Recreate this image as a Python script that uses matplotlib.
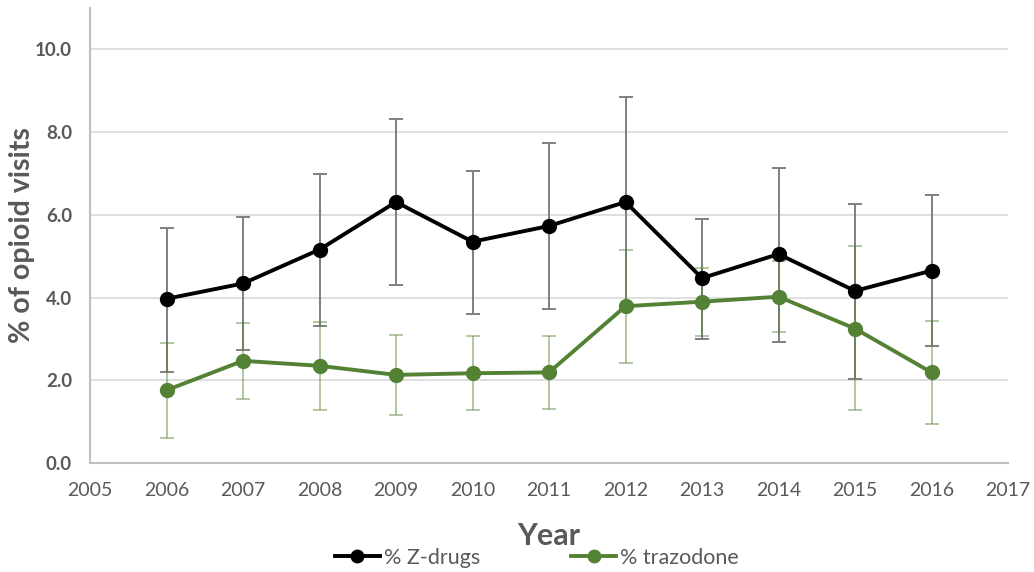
import matplotlib
matplotlib.use("Agg")
import matplotlib.pyplot as plt
from matplotlib.lines import Line2D

plt.rcParams['font.family'] = ['Lato', 'DejaVu Sans']

years = [2006, 2007, 2008, 2009, 2010, 2011, 2012, 2013, 2014, 2015, 2016]

zdrugs = [3.97, 4.34, 5.16, 6.31, 5.35, 5.73, 6.31, 4.47, 5.05, 4.16, 4.65]
zdrugs_upper = [5.69, 5.94, 6.99, 8.31, 7.06, 7.73, 8.85, 5.91, 7.14, 6.27, 6.48]
zdrugs_lower = [2.20, 2.72, 3.31, 4.30, 3.60, 3.73, 3.78, 3.00, 2.92, 2.03, 2.82]

trazodone = [1.76, 2.47, 2.35, 2.13, 2.17, 2.19, 3.79, 3.90, 4.02, 3.25, 2.19]
trazodone_upper = [2.90, 3.39, 3.42, 3.09, 3.07, 3.07, 5.16, 4.71, 4.89, 5.24, 3.43]
trazodone_lower = [0.61, 1.55, 1.27, 1.16, 1.27, 1.30, 2.42, 3.08, 3.17, 1.27, 0.95]

y_ticks = [0, 2, 4, 6, 8, 10]
x_ticks = list(range(2005, 2018))

BLACK = '#000000'
GREEN = '#548235'
TEXT = '#595959'

fig = plt.figure(figsize=(10.34, 5.72), dpi=100)
ax = fig.add_axes([90 / 1034, 1 - 463 / 572, (1008 - 90) / 1034, (463 - 8) / 572])

def err(vals, up, lo):
    return [[v - l for v, l in zip(vals, lo)], [u - v for v, u in zip(vals, up)]]

ax.errorbar(years, zdrugs, yerr=err(zdrugs, zdrugs_upper, zdrugs_lower), fmt='none',
            ecolor='#7f7f7f', elinewidth=1.4, capsize=5, capthick=1.4, zorder=2)
ax.errorbar(years, trazodone, yerr=err(trazodone, trazodone_upper, trazodone_lower), fmt='none',
            ecolor=GREEN, alpha=0.45, elinewidth=1.4, capsize=5, capthick=1.4, zorder=2)

ax.plot(years, zdrugs, color=BLACK, lw=2.8, marker='o', ms=10, zorder=4)
ax.plot(years, trazodone, color=GREEN, lw=2.8, marker='o', ms=10, zorder=3)

ax.set_xlim(2005, 2017)
ax.set_ylim(0, 11)
ax.set_yticks(y_ticks)
ax.set_yticklabels([f"{v:.1f}" for v in y_ticks], fontweight='bold')
ax.set_xticks(x_ticks)
ax.set_xticklabels([str(x) for x in x_ticks])
ax.tick_params(axis='both', length=0, colors=TEXT)
ax.tick_params(axis='x', labelsize=14, pad=14)
ax.tick_params(axis='y', labelsize=13.5, pad=13)

ax.grid(axis='y', color='#d9d9d9', lw=1.2)
ax.set_axisbelow(True)
for s in ['top', 'right']:
    ax.spines[s].set_visible(False)
ax.spines['left'].set_color('#bfbfbf')
ax.spines['bottom'].set_color('#bfbfbf')
ax.spines['left'].set_linewidth(1.5)
ax.spines['bottom'].set_linewidth(1.5)

fig.text(22 / 1034, 1 - 235 / 572, '% of opioid visits', fontsize=20.5, fontweight='bold',
         color=TEXT, rotation=90, ha='center', va='center')
fig.text(549 / 1034, 1 - 536 / 572, 'Year', fontsize=22, fontweight='bold', color=TEXT,
         ha='center', va='center')

handles = [Line2D([], [], color=BLACK, lw=2.8, marker='o', ms=9),
           Line2D([], [], color=GREEN, lw=2.8, marker='o', ms=9)]
fig.legend(handles, ['% Z-drugs', '% trazodone'], loc='center', ncol=2,
           bbox_to_anchor=(537 / 1034, 1 - 558 / 572), frameon=False,
           fontsize=15.5, labelcolor=TEXT, handlelength=2.1, columnspacing=4.2,
           handletextpad=0.2, borderpad=0)

fig.savefig('out.png', dpi=100)
